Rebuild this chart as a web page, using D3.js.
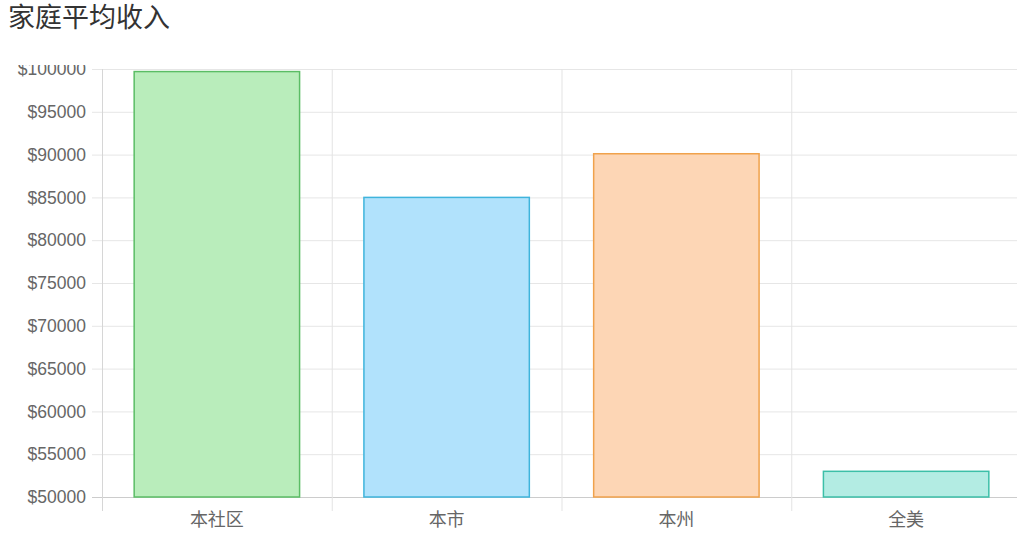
<!DOCTYPE html>
<html>
<head>
<meta charset="utf-8">
<script src="https://cdn.jsdelivr.net/npm/d3@7"></script>
<style>
  body { margin: 0; background: #fff; }
  svg { display: block; font-family: "Liberation Sans", "Noto Sans CJK SC", sans-serif; }
</style>
</head>
<body>
<div id="my-chart"></div>
<script>
// data
const categories = ["本社区", "本市", "本州", "全美"];
const incomes = [99700, 85000, 90100, 53000];
const fills = ["#b9edbb", "#b1e2fc", "#fdd6b5", "#b3ece3"];
const strokes = ["#5bbd65", "#3fb4dc", "#f0a24c", "#3cbfa8"];
const yTicks = [50000, 55000, 60000, 65000, 70000, 75000, 80000, 85000, 90000, 95000, 100000];

const width = 1017, height = 541;
const marginTop = 69, marginBottom = 44, marginLeft = 102, marginRight = -4;

const svg = d3.select("#my-chart").append("svg")
    .attr("width", width)
    .attr("height", height)
    .attr("viewBox", [0, 0, width, height]);

// title
svg.append("text")
    .attr("x", 8)
    .attr("y", 27)
    .attr("fill", "#333")
    .attr("font-size", 27)
    .attr("font-family", "'Noto Sans CJK SC', sans-serif")
    .text("家庭平均收入");

const x = d3.scaleBand()
    .domain(categories)
    .range([marginLeft, width - marginRight])
    .paddingInner(0)
    .paddingOuter(0);

const y = d3.scaleLinear()
    .domain([50000, 100000])
    .range([height - marginBottom, marginTop]);

// canvas area starts below title, so the top label is cut a bit
svg.append("defs").append("clipPath")
    .attr("id", "clip")
  .append("rect")
    .attr("x", 0)
    .attr("y", 65)
    .attr("width", width)
    .attr("height", height - 65);

const chart = svg.append("g").attr("clip-path", "url(#clip)");

// horizontal grid + y labels
const yAxis = d3.axisLeft(y)
    .tickValues(yTicks)
    .tickFormat(d => "$" + d)
    .tickSize(-(width - marginLeft - marginRight) - 10)
    .tickPadding(6);

chart.append("g")
    .attr("transform", `translate(${marginLeft - 10},0)`)
    .call(yAxis)
    .call(g => g.select(".domain").remove())
    .call(g => g.selectAll(".tick line")
        .attr("stroke", d => d === 50000 ? "#cccccc" : "#e6e6e6"))
    .call(g => g.selectAll(".tick text")
        .attr("fill", "#666")
        .attr("font-size", 17.5)
        .attr("x", -6));

// vertical grid lines at category edges
const edges = categories.map(c => x(c)).concat([x(categories[categories.length - 1]) + x.bandwidth()]);
chart.append("g")
  .selectAll("line")
  .data(edges)
  .join("line")
    .attr("x1", d => d + 0.5)
    .attr("x2", d => d + 0.5)
    .attr("y1", marginTop)
    .attr("y2", height - marginBottom + 14)
    .attr("stroke", (d, i) => i === 0 ? "#d6d6d6" : "#e3e3e3");

// x labels
const xAxis = d3.axisBottom(x).tickSize(0).tickPadding(16);
chart.append("g")
    .attr("transform", `translate(0,${height - marginBottom})`)
    .call(xAxis)
    .call(g => g.select(".domain").remove())
    .call(g => g.selectAll(".tick text")
        .attr("fill", "#666")
        .attr("font-size", 18)
        .attr("font-family", "'Noto Sans CJK SC', sans-serif"));

// bars
const barW = x.bandwidth() * 0.8 * 0.9;
chart.append("g")
  .selectAll("rect")
  .data(categories)
  .join("rect")
    .attr("x", c => x(c) + (x.bandwidth() - barW) / 2)
    .attr("y", (c, i) => y(incomes[i]))
    .attr("width", barW)
    .attr("height", (c, i) => y(50000) - y(incomes[i]))
    .attr("fill", (c, i) => fills[i])
    .attr("stroke", (c, i) => strokes[i])
    .attr("stroke-width", 1.5);
</script>
</body>
</html>
